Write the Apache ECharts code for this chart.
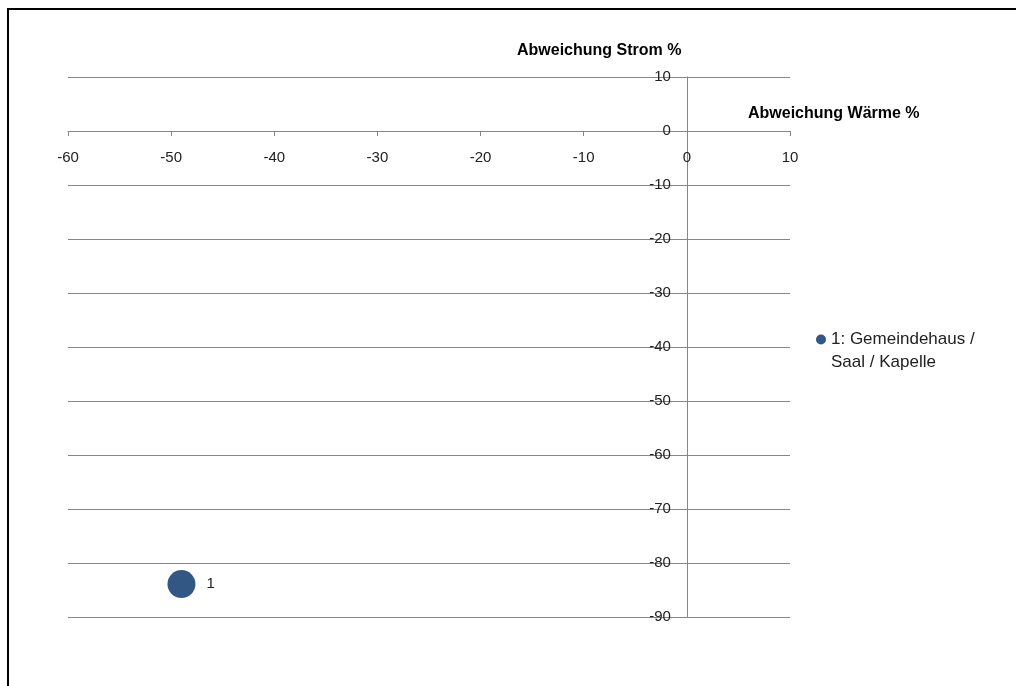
<!DOCTYPE html>
<html>
<head>
<meta charset="utf-8">
<script src="https://cdn.jsdelivr.net/npm/echarts@6/dist/echarts.min.js"></script>
<style>
  html, body { margin: 0; padding: 0; background: #fff; }
  #chart { width: 1016px; height: 686px; }
</style>
</head>
<body>
<div id="chart"></div>
<script>
// Deviation of heat (x) and electricity (y) consumption, in percent
const seriesName = '1: Gemeindehaus /\nSaal / Kapelle';
const pointLabels = ['1'];
const heatDeviation = [-49];
const powerDeviation = [-83.9];
const xTitle = 'Abweichung Wärme %';
const yTitle = 'Abweichung Strom %';
const xRange = [-60, 10];
const yRange = [-90, 10];

const FONT = 'Liberation Sans';
const GRAY = '#868686';
const GRID = { left: 68, right: 226, top: 77, bottom: 69 };
const W = 1016, H = 686;

// Pixel offsets that place each axis on the other axis' zero value
const plotW = W - GRID.left - GRID.right;
const plotH = H - GRID.top - GRID.bottom;
const xAxisOffset = -plotH * (yRange[1] - 0) / (yRange[1] - yRange[0]);
const yAxisOffset = -plotW * (xRange[1] - 0) / (xRange[1] - xRange[0]);

// Legend marker: a dot level with the first text line of a two-line entry
const LEGEND_LINE = 23;
const legendIcon = 'path://M0 0L0 0M5 6.5A5 5 0 1 1 5 16.5A5 5 0 1 1 5 6.5Z'
  + 'M10 ' + (2 * LEGEND_LINE) + 'L10 ' + (2 * LEGEND_LINE);

const chart = echarts.init(document.getElementById('chart'));
chart.setOption({
  animation: false,
  grid: GRID,
  xAxis: {
    type: 'value', min: xRange[0], max: xRange[1], interval: 10,
    position: 'top', offset: xAxisOffset,
    axisLine: { onZero: false, lineStyle: { color: GRAY, width: 1 } },
    axisTick: { show: true, inside: true, length: 5, lineStyle: { color: GRAY } },
    axisLabel: { inside: true, margin: 19, fontFamily: FONT, fontSize: 15, color: '#222' },
    splitLine: { show: false }
  },
  yAxis: {
    type: 'value', min: yRange[0], max: yRange[1], interval: 10,
    position: 'right', offset: yAxisOffset,
    axisLine: { onZero: false, lineStyle: { color: GRAY, width: 1 } },
    axisTick: { show: false },
    axisLabel: { inside: true, margin: 16, fontFamily: FONT, fontSize: 15, color: '#222' },
    splitLine: { show: true, lineStyle: { color: GRAY, width: 1 } }
  },
  legend: {
    orient: 'vertical', left: 811, top: 323,
    icon: legendIcon, itemWidth: 10, itemHeight: 2 * LEGEND_LINE, itemGap: 4,
    textStyle: { fontFamily: FONT, fontSize: 17, color: '#222', lineHeight: LEGEND_LINE },
    data: [seriesName]
  },
  graphic: [
    { type: 'rect', shape: { x: 8, y: 9, width: 1200, height: 900 },
      style: { fill: 'none', stroke: '#000', lineWidth: 2 }, silent: true },
    { type: 'text', left: 517, top: 43,
      style: { text: yTitle, font: 'bold 16px ' + FONT, fill: '#000' } },
    { type: 'text', left: 748, top: 106,
      style: { text: xTitle, font: 'bold 16px ' + FONT, fill: '#000' } }
  ],
  series: [{
    name: seriesName,
    type: 'scatter',
    symbolSize: 28,
    itemStyle: { color: '#325784', opacity: 1 },
    label: {
      show: true, position: 'right', distance: 11,
      fontFamily: FONT, fontSize: 15, color: '#222',
      formatter: p => pointLabels[p.dataIndex]
    },
    data: heatDeviation.map((x, i) => [x, powerDeviation[i]])
  }]
});
</script>
</body>
</html>
